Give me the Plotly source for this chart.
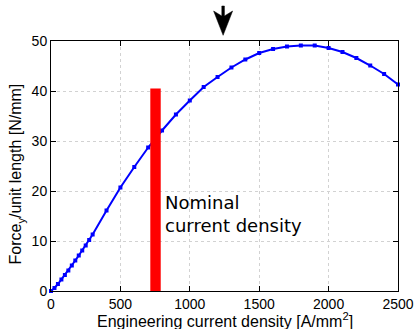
import plotly.graph_objects as go

# Data
current_density = [0, 25, 50, 75, 100, 125, 150, 175, 200, 225, 250, 275, 300,
                   400, 500, 600, 700, 800, 900, 1000, 1100, 1200, 1300, 1400,
                   1500, 1600, 1700, 1800, 1900, 2000, 2100, 2200, 2300, 2400, 2500]
force = [0, 0.6, 1.4, 2.3, 3.2, 4.1, 5.1, 6.1, 7.1, 8.1, 9.1, 10.2, 11.3,
         16.1, 20.7, 24.8, 28.7, 32.1, 35.3, 38.1, 40.8, 42.8, 44.7, 46.3,
         47.6, 48.4, 48.9, 49.1, 49.1, 48.6, 47.8, 46.6, 45.1, 43.4, 41.3]

nominal_j = 753        # nominal current density (red bar centre)
nominal_width = 75     # bar width in A/mm^2
nominal_height = 40.5  # bar height
arrow_j = 1240         # arrow position on top

x_ticks = [0, 500, 1000, 1500, 2000, 2500]
y_ticks = [0, 10, 20, 30, 40, 50]
x_max = 2500
y_max = 50

fig = go.Figure()

fig.add_trace(go.Scatter(
    x=current_density, y=force, mode="lines+markers",
    line=dict(color="#0000FF", width=2),
    marker=dict(symbol="square", size=4, color="#0000FF"),
    cliponaxis=False, showlegend=False,
))

bx0 = nominal_j - nominal_width / 2
bx1 = nominal_j + nominal_width / 2
fig.add_trace(go.Scatter(
    x=[bx0, bx1, bx1, bx0, bx0], y=[0, 0, nominal_height, nominal_height, 0],
    mode="lines", fill="toself", fillcolor="#FF0000",
    line=dict(color="#FF0000", width=0), showlegend=False, hoverinfo="skip",
))

axis_font = dict(family="Liberation Sans, Arial, sans-serif", size=14, color="black")

common = dict(
    ticks="inside", ticklen=5, automargin=False,
    showline=True, linecolor="black", linewidth=1, mirror="ticks",
    showgrid=True, gridcolor="#d2d2d2", griddash="dot", gridwidth=1,
    zeroline=False, tickfont=axis_font, tickcolor="black",
)
fig.update_xaxes(range=[0, x_max], tickvals=x_ticks, **common)
fig.update_yaxes(range=[0, y_max], tickvals=y_ticks, **common)

fig.add_annotation(
    text="Nominal<br>current density", x=810, y=15.4, xref="x", yref="y",
    xanchor="left", yanchor="middle", align="left", showarrow=False,
    font=dict(family="DejaVu Sans", size=18, color="black"),
)

fig.add_annotation(
    text="Engineering current density [A/mm<sup>2</sup>]",
    x=0.5, y=-0.117, xref="paper", yref="paper",
    xanchor="center", yanchor="middle", showarrow=False,
    font=dict(family="Liberation Sans, Arial, sans-serif", size=16, color="black"),
)
fig.add_annotation(
    text="Force<sub>y</sub>/unit length [N/mm]",
    x=-0.098, y=0.47, xref="paper", yref="paper", textangle=-90,
    xanchor="center", yanchor="middle", showarrow=False,
    font=dict(family="Liberation Sans, Arial, sans-serif", size=16, color="black"),
)

fig.add_shape(
    type="path", xref="x domain", yref="y domain",
    xsizemode="pixel", ysizemode="pixel",
    xanchor=arrow_j / x_max, yanchor=1,
    path="M-1.3,35 L1.3,35 L1.3,25 L9.5,30 L0,5.7 L-9.5,30 L-1.3,25 Z",
    fillcolor="black", line=dict(color="black", width=0.5), layer="above",
)

fig.update_layout(
    width=418, height=329,
    margin=dict(l=51, r=20, t=41, b=38),
    plot_bgcolor="white", paper_bgcolor="white",
)

fig.write_html("out.html", config={"displayModeBar": False},
               post_script="document.body.style.margin='0';")
